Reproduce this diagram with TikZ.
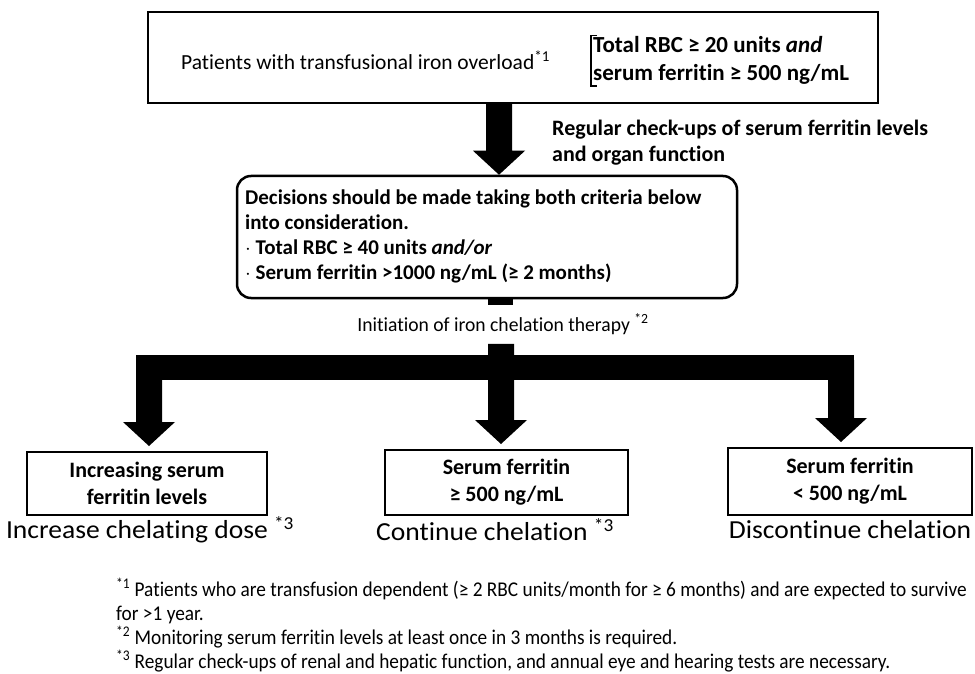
\documentclass[tikz,border=0pt]{standalone}
\usepackage{fontspec}
\setmainfont[Ligatures=NoCommon]{Carlito}
\newcommand\mkfam[2]{\newfontfamily#1[FakeStretch=#2,Ligatures=NoCommon]{Carlito}}
\mkfam\fInit{0.98}
\mkfam\fOut{1.06}
\mkfam\fFn{0.92}
\usetikzlibrary{calc}
\newcommand\fsz[2]{\fontsize{#1}{#2}\selectfont}
\newcommand\blkarr[2]{%
  \fill let \p1=#1, \p2=#2 in
    (\x1-13pt,\y1) -- (\x1-13pt,\y2+24pt) -- (\x1-26pt,\y2+24pt) -- (\x1,\y2)
    -- (\x1+26pt,\y2+24pt) -- (\x1+13pt,\y2+24pt) -- (\x1+13pt,\y1) -- cycle;}
\begin{document}
\begin{tikzpicture}[x=1pt,y=-1pt]
\tikzset{
  frame/.style={draw, line width=2.5pt, inner sep=0pt},
  res/.style={draw, line width=2pt, align=center, inner sep=0pt, font=\bfseries\fsz{22}{27}},
  outc/.style={font=\fOut\fsz{26}{28}},
}
\useasboundingbox (0,0) rectangle (975,674);
% top box
\node[frame, minimum width=730pt, minimum height=91pt] (top) at (513,57.5) {};
\node[anchor=west, inner sep=0pt, font=\fsz{21.5}{24}] (pat) at (181,60) {Patients with transfusional iron overload\textsuperscript{*1}};
\node[anchor=base west, align=left, inner sep=1pt, font=\bfseries\fsz{23}{28}] (crit) at (592,81) {Total RBC ≥ 20 units \textit{and}\\serum ferritin ≥ 500 ng/mL};
\draw[line width=1.2pt] ([xshift=5pt]crit.north west) -- ([xshift=-1pt]crit.north west) -- ([xshift=-1pt]crit.south west) -- ([xshift=5pt]crit.south west);
% check-ups
\node[anchor=base west, align=left, inner sep=0pt, font=\bfseries\fsz{22}{26}] (reg) at (552,161) {Regular check-ups of serum ferritin levels\\and organ function};
% decision box
\node[draw, line width=2.5pt, rounded corners=14pt, minimum width=500pt, minimum height=122pt] (dec) at (487,237) {};
\node[anchor=base west, align=left, inner sep=0pt, font=\bfseries\fsz{21}{25}] (dectext) at (245,279) {Decisions should be made taking both criteria below\\into consideration.\\$\cdot$ Total RBC ≥ 40 units \textit{and/or}\\$\cdot$ Serum ferritin >1000 ng/mL (≥ 2 months)};
\coordinate (cx) at (499,0);
\blkarr{(cx |- top.south)}{(cx |- dec.north)}
% initiation
\node[font=\fInit\fsz{20}{22}] (init) at (503,324) {Initiation of iron chelation therapy \textsuperscript{*2}};
\coordinate (cm) at (500.5,0);
\fill ($(cm |- dec.south)+(-12.5,0)$) rectangle ($(cm |- init.north)+(12.5,-5)$);
% result boxes
\node[res, minimum width=240pt, minimum height=63pt] (bL) at (147,483.5) {Increasing serum\\ferritin levels};
\node[res, minimum width=243pt, minimum height=65pt] (bM) at (506.5,482.5) {Serum ferritin\\≥ 500 ng/mL};
\node[res, minimum width=244pt, minimum height=67pt] (bR) at (850,481.5) {Serum ferritin\\< 500 ng/mL};
% branching arrows
\coordinate (barTL) at (136,355);
\coordinate (barBR) at (854,380);
\fill (barTL) rectangle (barBR);
\coordinate (xL) at (149,360);
\coordinate (xM) at (501,0);
\coordinate (xR) at (841,360);
\blkarr{($(xM |- init.south)+(0,6)$)}{($(xM |- bM.north)+(0,-5)$)}
\blkarr{(xL)}{($(xL |- bL.north)+(0,-5)$)}
\blkarr{(xR)}{($(xR |- bR.north)+(0,-5)$)}
% outcomes
\node[outc] (oL) at (150,530) {Increase chelating dose \textsuperscript{*3}};
\node[outc] (oM) at (495,530) {Continue chelation \textsuperscript{*3}};
\node[outc] (oR) at (850,530) {Discontinue chelation};
% footnotes
\node[anchor=base west, align=left, inner sep=0pt, font=\fFn\fsz{21}{24}] (fn) at (116,668) {\textsuperscript{*1} Patients who are transfusion dependent (≥ 2 RBC units/month for ≥ 6 months) and are expected to survive\\for >1 year.\\\textsuperscript{*2} Monitoring serum ferritin levels at least once in 3 months is required.\\\textsuperscript{*3} Regular check-ups of renal and hepatic function, and annual eye and hearing tests are necessary.};
\end{tikzpicture}
\end{document}
